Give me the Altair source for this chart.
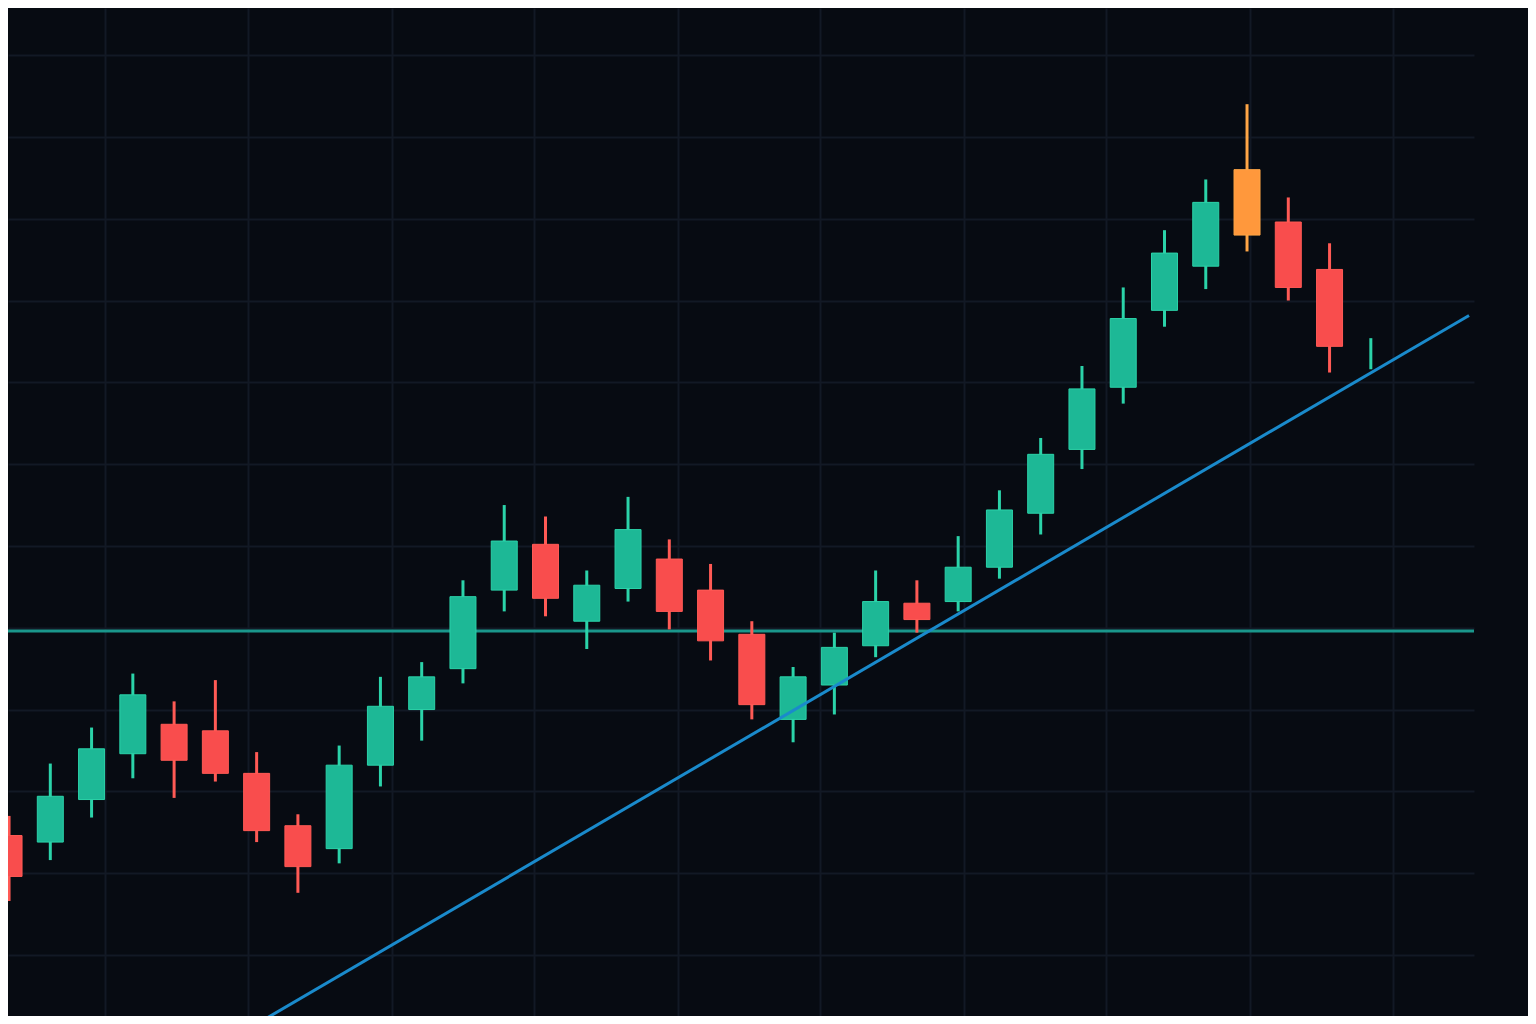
import pandas as pd
import altair as alt

# one candle per session, prices
bar = list(range(34))
open_ = [107.3, 106.9, 109.5, 112.3, 114.1, 113.7, 111.1, 107.9, 106.5, 111.6,
         115.0, 117.5, 122.3, 125.1, 120.4, 122.4, 124.2, 122.3, 119.6, 114.4,
         116.5, 118.9, 121.5, 121.6, 123.7, 127.0, 130.9, 134.7, 139.4, 142.1,
         148.0, 144.8, 141.9, 135.8]
high = [108.5, 111.7, 113.9, 117.2, 115.5, 116.8, 112.4, 108.6, 112.8, 117.0,
        117.9, 122.9, 127.5, 126.8, 123.5, 128.0, 125.4, 123.9, 120.4, 117.6,
        119.7, 123.5, 122.9, 125.6, 128.4, 131.6, 136.0, 140.8, 144.3, 147.4,
        152.0, 146.3, 143.5, 137.7]
low = [103.3, 105.8, 108.4, 110.8, 109.6, 110.6, 106.9, 103.8, 105.6, 110.3,
       113.1, 116.6, 121.0, 120.7, 118.7, 121.6, 119.9, 118.0, 114.4, 113.0,
       114.7, 118.2, 119.7, 121.0, 123.0, 125.7, 129.7, 133.7, 138.4, 140.7,
       143.0, 140.0, 135.6, 135.8]
close = [104.8, 109.7, 112.6, 115.9, 111.9, 111.1, 107.6, 105.4, 111.6, 115.2,
         117.0, 121.9, 125.3, 121.8, 122.6, 126.0, 121.0, 119.2, 115.3, 117.0,
         118.8, 121.6, 120.5, 123.7, 127.2, 130.6, 134.6, 138.9, 142.9, 146.0,
         144.0, 140.8, 137.2, 135.8]
peak_bar = 30

support = [119.8]
trend_bar = [6.04, 35.38]
trend_price = [95.84, 139.09]

x_grid = [2.33, 5.80, 9.27, 12.73, 16.20, 19.66, 23.13, 26.59, 30.06, 33.53]
y_grid = [100, 105, 110, 115, 120, 125, 130, 135, 140, 145, 150, 155]

BG = "#070b12"
GRID = "#121925"

kind = []
for i, (o, c) in enumerate(zip(open_, close)):
    if i == peak_bar:
        kind.append("peak")
    elif c >= o:
        kind.append("up")
    else:
        kind.append("down")

df = pd.DataFrame(
    {"bar": bar, "open": open_, "high": high, "low": low, "close": close, "kind": kind}
)
df_support = pd.DataFrame({"price": support})
df_trend = pd.DataFrame({"bar": trend_bar, "price": trend_price})

x_scale = alt.Scale(domain=[0.096, 35.379], nice=False, zero=False)
y_scale = alt.Scale(domain=[96.27, 157.88], nice=False, zero=False)
x_axis = alt.Axis(values=x_grid, grid=True, labels=False, ticks=False,
                  domain=False, title=None, gridColor=GRID, gridWidth=2)
y_axis = alt.Axis(values=y_grid, grid=True, labels=False, ticks=False,
                  domain=False, title=None, gridColor=GRID, gridWidth=2)
kinds = ["up", "down", "peak"]
fill_colors = alt.Scale(domain=kinds, range=["#1db896", "#f94d4d", "#ff983c"])
edge_colors = alt.Scale(domain=kinds, range=["#2bd3a9", "#ff5a55", "#ffa646"])

level = (
    alt.Chart(df_support)
    .mark_rule(color="#1a978c", strokeWidth=3)
    .encode(alt.Y("price:Q", scale=y_scale, axis=y_axis))
)

wicks = (
    alt.Chart(df)
    .mark_rule(strokeWidth=3)
    .encode(
        alt.X("bar:Q", scale=x_scale, axis=x_axis),
        alt.Y("low:Q", scale=y_scale, axis=y_axis),
        alt.Y2("high:Q"),
        alt.Color("kind:N", scale=edge_colors, legend=None),
    )
)

bodies = (
    alt.Chart(df)
    .transform_filter("datum.open != datum.close")
    .mark_bar(size=26, strokeWidth=1)
    .encode(
        alt.X("bar:Q", scale=x_scale, axis=x_axis),
        alt.Y("open:Q", scale=y_scale, axis=y_axis),
        alt.Y2("close:Q"),
        alt.Fill("kind:N", scale=fill_colors, legend=None),
        alt.Stroke("kind:N", scale=edge_colors, legend=None),
    )
)

trend = (
    alt.Chart(df_trend)
    .mark_line(color="#1a8acb", strokeWidth=3, clip=True)
    .encode(
        alt.X("bar:Q", scale=x_scale, axis=x_axis),
        alt.Y("price:Q", scale=y_scale, axis=y_axis),
    )
)

chart = (
    (level + wicks + bodies + trend)
    .properties(
        width=1466,
        height=1008,
        background=BG,
        padding={"left": 0, "top": 0, "right": 54, "bottom": 0},
        autosize=alt.AutoSizeParams(type="none"),
    )
    .configure_view(strokeWidth=0)
)

chart.save("out.html", embed_options={"renderer": "svg", "actions": False})
